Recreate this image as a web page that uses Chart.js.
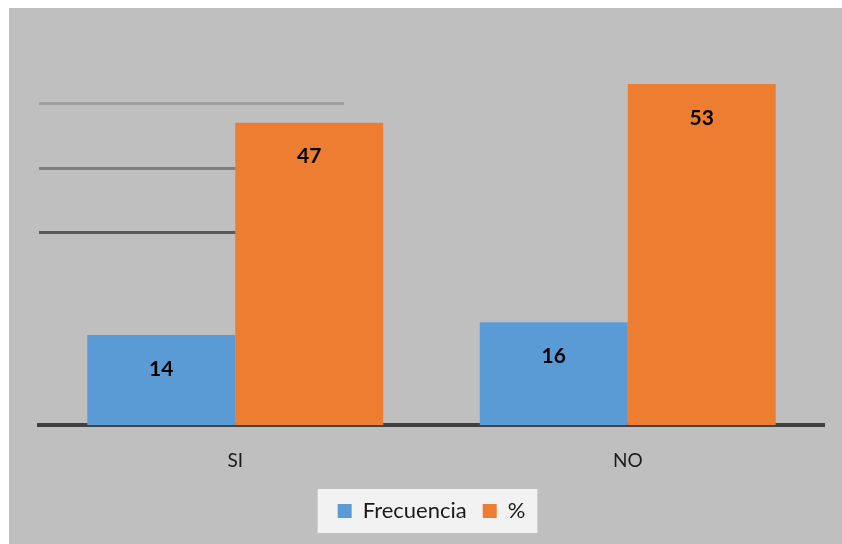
<!DOCTYPE html>
<html>
<head>
<meta charset="utf-8">
<script src="https://cdn.jsdelivr.net/npm/chart.js@4/dist/chart.umd.min.js"></script>
<style>
  html, body { margin: 0; padding: 0; background: #ffffff; }
  #wrap {
    position: absolute;
    left: 9px;
    top: 8px;
    width: 833px;
    height: 536px;
    background: #bfbfbf;
  }
</style>
</head>
<body>
<div id="wrap"><canvas id="myChart" width="833" height="536"></canvas></div>
<script>
const categories = ['SI', 'NO'];
const frecuencia = [14, 16];
const porcentaje = [47, 53];
const gridValues = [30, 40, 50];

const gridColors = ['#595959', '#7f7f7f', '#a0a0a0'];
const gridEndX = 335;

// short horizontal guide lines on the left side, behind the bars
const guideLines = {
  id: 'guideLines',
  beforeDatasetsDraw(chart) {
    const { ctx, chartArea, scales } = chart;
    ctx.save();
    ctx.lineWidth = 3;
    gridValues.forEach((v, i) => {
      const y = Math.round(scales.y.getPixelForValue(v)) + 0.5;
      ctx.strokeStyle = gridColors[i];
      ctx.beginPath();
      ctx.moveTo(chartArea.left, y);
      ctx.lineTo(gridEndX, y);
      ctx.stroke();
    });
    ctx.restore();
  }
};

// numbers written inside the top of each bar
const barValues = {
  id: 'barValues',
  afterDatasetsDraw(chart) {
    const { ctx } = chart;
    ctx.save();
    ctx.font = 'bold 21px Lato';
    ctx.fillStyle = '#000000';
    ctx.textAlign = 'center';
    ctx.textBaseline = 'middle';
    chart.data.datasets.forEach((ds, i) => {
      chart.getDatasetMeta(i).data.forEach((bar, j) => {
        ctx.fillText(ds.data[j], bar.x, bar.y + 34);
      });
    });
    ctx.restore();
  }
};

// light box behind the legend
const legendBox = {
  id: 'legendBox',
  beforeDraw(chart) {
    const boxes = chart.legend.legendHitBoxes;
    if (!boxes || !boxes.length) return;
    const first = boxes[0];
    const last = boxes[boxes.length - 1];
    const cy = first.top + first.height / 2;
    const { ctx } = chart;
    ctx.save();
    ctx.fillStyle = '#f2f2f2';
    ctx.fillRect(first.left - 20, cy - 22, last.left + last.width + 12 - (first.left - 20), 44);
    ctx.restore();
  }
};

const ctx = document.getElementById('myChart').getContext('2d');
const myChart = new Chart(ctx, {
  type: 'bar',
  data: {
    labels: categories,
    datasets: [
      { label: 'Frecuencia', data: frecuencia, backgroundColor: '#5b9bd5' },
      { label: '%', data: porcentaje, backgroundColor: '#ed7d31' }
    ]
  },
  options: {
    responsive: false,
    animation: false,
    events: [],
    layout: { padding: { left: 30, right: 18, top: 31, bottom: 12 } },
    datasets: {
      bar: { categoryPercentage: 0.754, barPercentage: 1 }
    },
    scales: {
      x: {
        z: 1,
        grid: { display: false, drawTicks: false },
        border: { display: true, color: '#404040', width: 4 },
        ticks: { color: '#1a1a1a', font: { family: 'Lato', size: 19 }, padding: 24 },
        // pull the axis down so there is a wider gap above the legend
        afterFit(scale) { scale.height -= 12; }
      },
      y: { display: false, min: 0, max: 60 }
    },
    plugins: {
      legend: {
        position: 'bottom',
        labels: {
          color: '#1a1a1a',
          font: { family: 'Lato', size: 22 },
          boxWidth: 14,
          boxHeight: 14,
          padding: 16
        }
      },
      tooltip: { enabled: false }
    }
  },
  plugins: [guideLines, barValues, legendBox]
});
</script>
</body>
</html>
